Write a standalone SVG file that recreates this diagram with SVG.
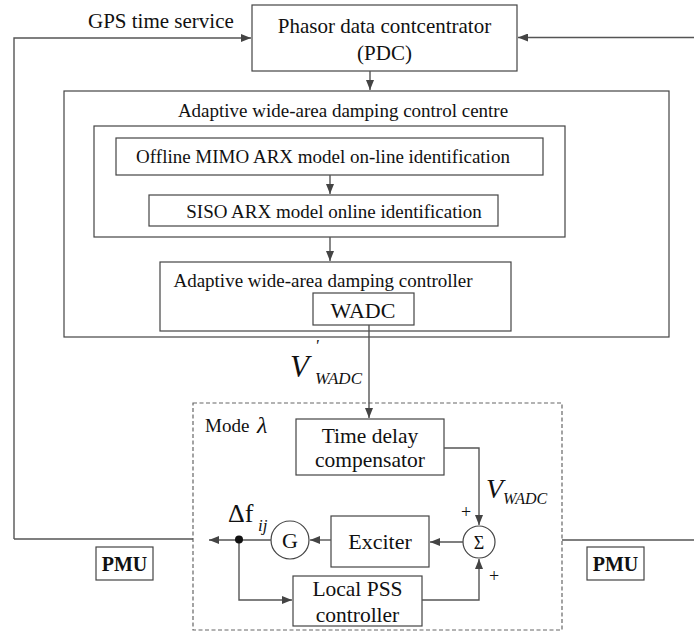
<svg xmlns="http://www.w3.org/2000/svg" width="694" height="632" viewBox="0 0 694 632" font-family="'Liberation Serif', 'Times New Roman', serif">
<defs>
<marker id="ah" markerWidth="10" markerHeight="8" refX="10" refY="4" orient="auto" markerUnits="userSpaceOnUse">
<path d="M0,0 L10,4 L0,8 Z" fill="#444"/>
</marker>
<style>
.box{fill:#fff;stroke:#444;stroke-width:1.2}
.open{fill:none;stroke:#444;stroke-width:1.2}
.ln{fill:none;stroke:#555;stroke-width:1.4}
text{fill:#111;font-family:'Liberation Serif','Times New Roman',serif}
.i{font-style:italic}
.c{text-anchor:middle}
</style>
</defs>
<rect width="694" height="632" fill="#fff"/>

<g id="gps-label"><text x="88" y="28" font-size="21">GPS time service</text></g>

<g id="pdc">
<rect class="box" x="252" y="5" width="265" height="66"/>
<text class="c" x="384.5" y="33" font-size="21">Phasor data contcentrator</text>
<text class="c" x="384.5" y="60" font-size="21">(PDC)</text>
</g>

<g id="control-centre">
<rect class="open" x="64" y="91" width="605" height="246"/>
<text class="c" x="343" y="117" font-size="19">Adaptive wide-area damping control centre</text>
</g>

<g id="identification-group">
<rect class="open" x="94" y="126" width="471" height="111"/>
</g>

<g id="offline-mimo">
<rect class="box" x="116" y="138" width="427" height="37"/>
<text class="c" x="323" y="163" font-size="19">Offline MIMO ARX model on-line identification</text>
</g>

<g id="siso">
<rect class="box" x="149" y="195" width="349" height="31"/>
<text class="c" x="334" y="218" font-size="19">SISO ARX model online identification</text>
</g>

<g id="controller">
<rect class="box" x="160" y="262" width="351" height="69"/>
<text class="c" x="323" y="287" font-size="19">Adaptive wide-area damping controller</text>
</g>

<g id="wadc">
<rect class="box" x="313" y="293" width="101" height="32"/>
<text class="c" x="363" y="318" font-size="22">WADC</text>
</g>

<g id="v-prime-label">
<text class="i" x="290" y="377" font-size="31">V</text>
<text class="i" x="315" y="351" font-size="17">'</text>
<text class="i" x="315" y="384" font-size="17">WADC</text>
</g>

<g id="mode-box">
<rect x="193" y="403" width="369" height="227" fill="none" stroke="#666" stroke-width="1.2" stroke-dasharray="4,2.5"/>
<text x="205" y="432" font-size="19">Mode</text>
<text class="i" x="257" y="433" font-size="24">λ</text>
</g>

<g id="time-delay">
<rect class="box" x="296" y="419" width="148" height="56"/>
<text class="c" x="370" y="443" font-size="21.5">Time delay</text>
<text class="c" x="370" y="467" font-size="21.5">compensator</text>
</g>

<g id="v-wadc-label">
<text class="i" x="486" y="498" font-size="28">V</text>
<text class="i" x="503" y="504" font-size="16">WADC</text>
</g>

<g id="sum">
<circle cx="479" cy="542" r="16" fill="#fff" stroke="#444" stroke-width="1.2"/>
<text class="c" x="479" y="549" font-size="18">Σ</text>
<text class="c" x="466" y="518" font-size="18">+</text>
<text class="c" x="494" y="582" font-size="18">+</text>
</g>

<g id="exciter">
<rect class="box" x="331" y="516" width="98" height="51"/>
<text class="c" x="380" y="549" font-size="22">Exciter</text>
</g>

<g id="generator">
<circle cx="290" cy="540" r="19" fill="#fff" stroke="#444" stroke-width="1.2"/>
<text class="c" x="290" y="548" font-size="22">G</text>
</g>

<g id="delta-f-label">
<text x="228" y="522" font-size="26">Δf</text>
<text class="i" x="258" y="531" font-size="17">ij</text>
</g>

<g id="local-pss">
<rect class="box" x="293" y="576" width="129" height="50"/>
<text class="c" x="357.5" y="596" font-size="21.5">Local PSS</text>
<text class="c" x="357.5" y="622" font-size="21.5">controller</text>
</g>

<g id="pmu-left">
<rect class="box" x="96" y="547" width="57" height="33"/>
<text class="c" x="124.5" y="571" font-size="20" font-weight="bold">PMU</text>
</g>

<g id="pmu-right">
<rect class="box" x="587" y="547" width="57" height="33"/>
<text class="c" x="615.5" y="571" font-size="20" font-weight="bold">PMU</text>
</g>

<g id="connectors">
<path class="ln" d="M14,539 V38 H251" marker-end="url(#ah)"/>
<path class="ln" d="M694,37.5 H518" marker-end="url(#ah)"/>
<path class="ln" d="M370,71 V90" marker-end="url(#ah)"/>
<path class="ln" d="M330,175 V194" marker-end="url(#ah)"/>
<path class="ln" d="M330,237 V261" marker-end="url(#ah)"/>
<path class="ln" d="M369,325 V418" marker-end="url(#ah)"/>
<path class="ln" d="M444,448 H479 V525" marker-end="url(#ah)"/>
<path class="ln" d="M463,542 H430" marker-end="url(#ah)"/>
<path class="ln" d="M331,540 H310" marker-end="url(#ah)"/>
<path class="ln" d="M271,540 H209" marker-end="url(#ah)"/>
<path class="ln" d="M239,540 V600 H292" marker-end="url(#ah)"/>
<path class="ln" d="M422,600 H479 V559" marker-end="url(#ah)"/>
<path class="ln" d="M14,539 H193"/>
<path class="ln" d="M562,540 H694"/>
<circle cx="239" cy="539.5" r="4" fill="#111"/>
</g>
</svg>
